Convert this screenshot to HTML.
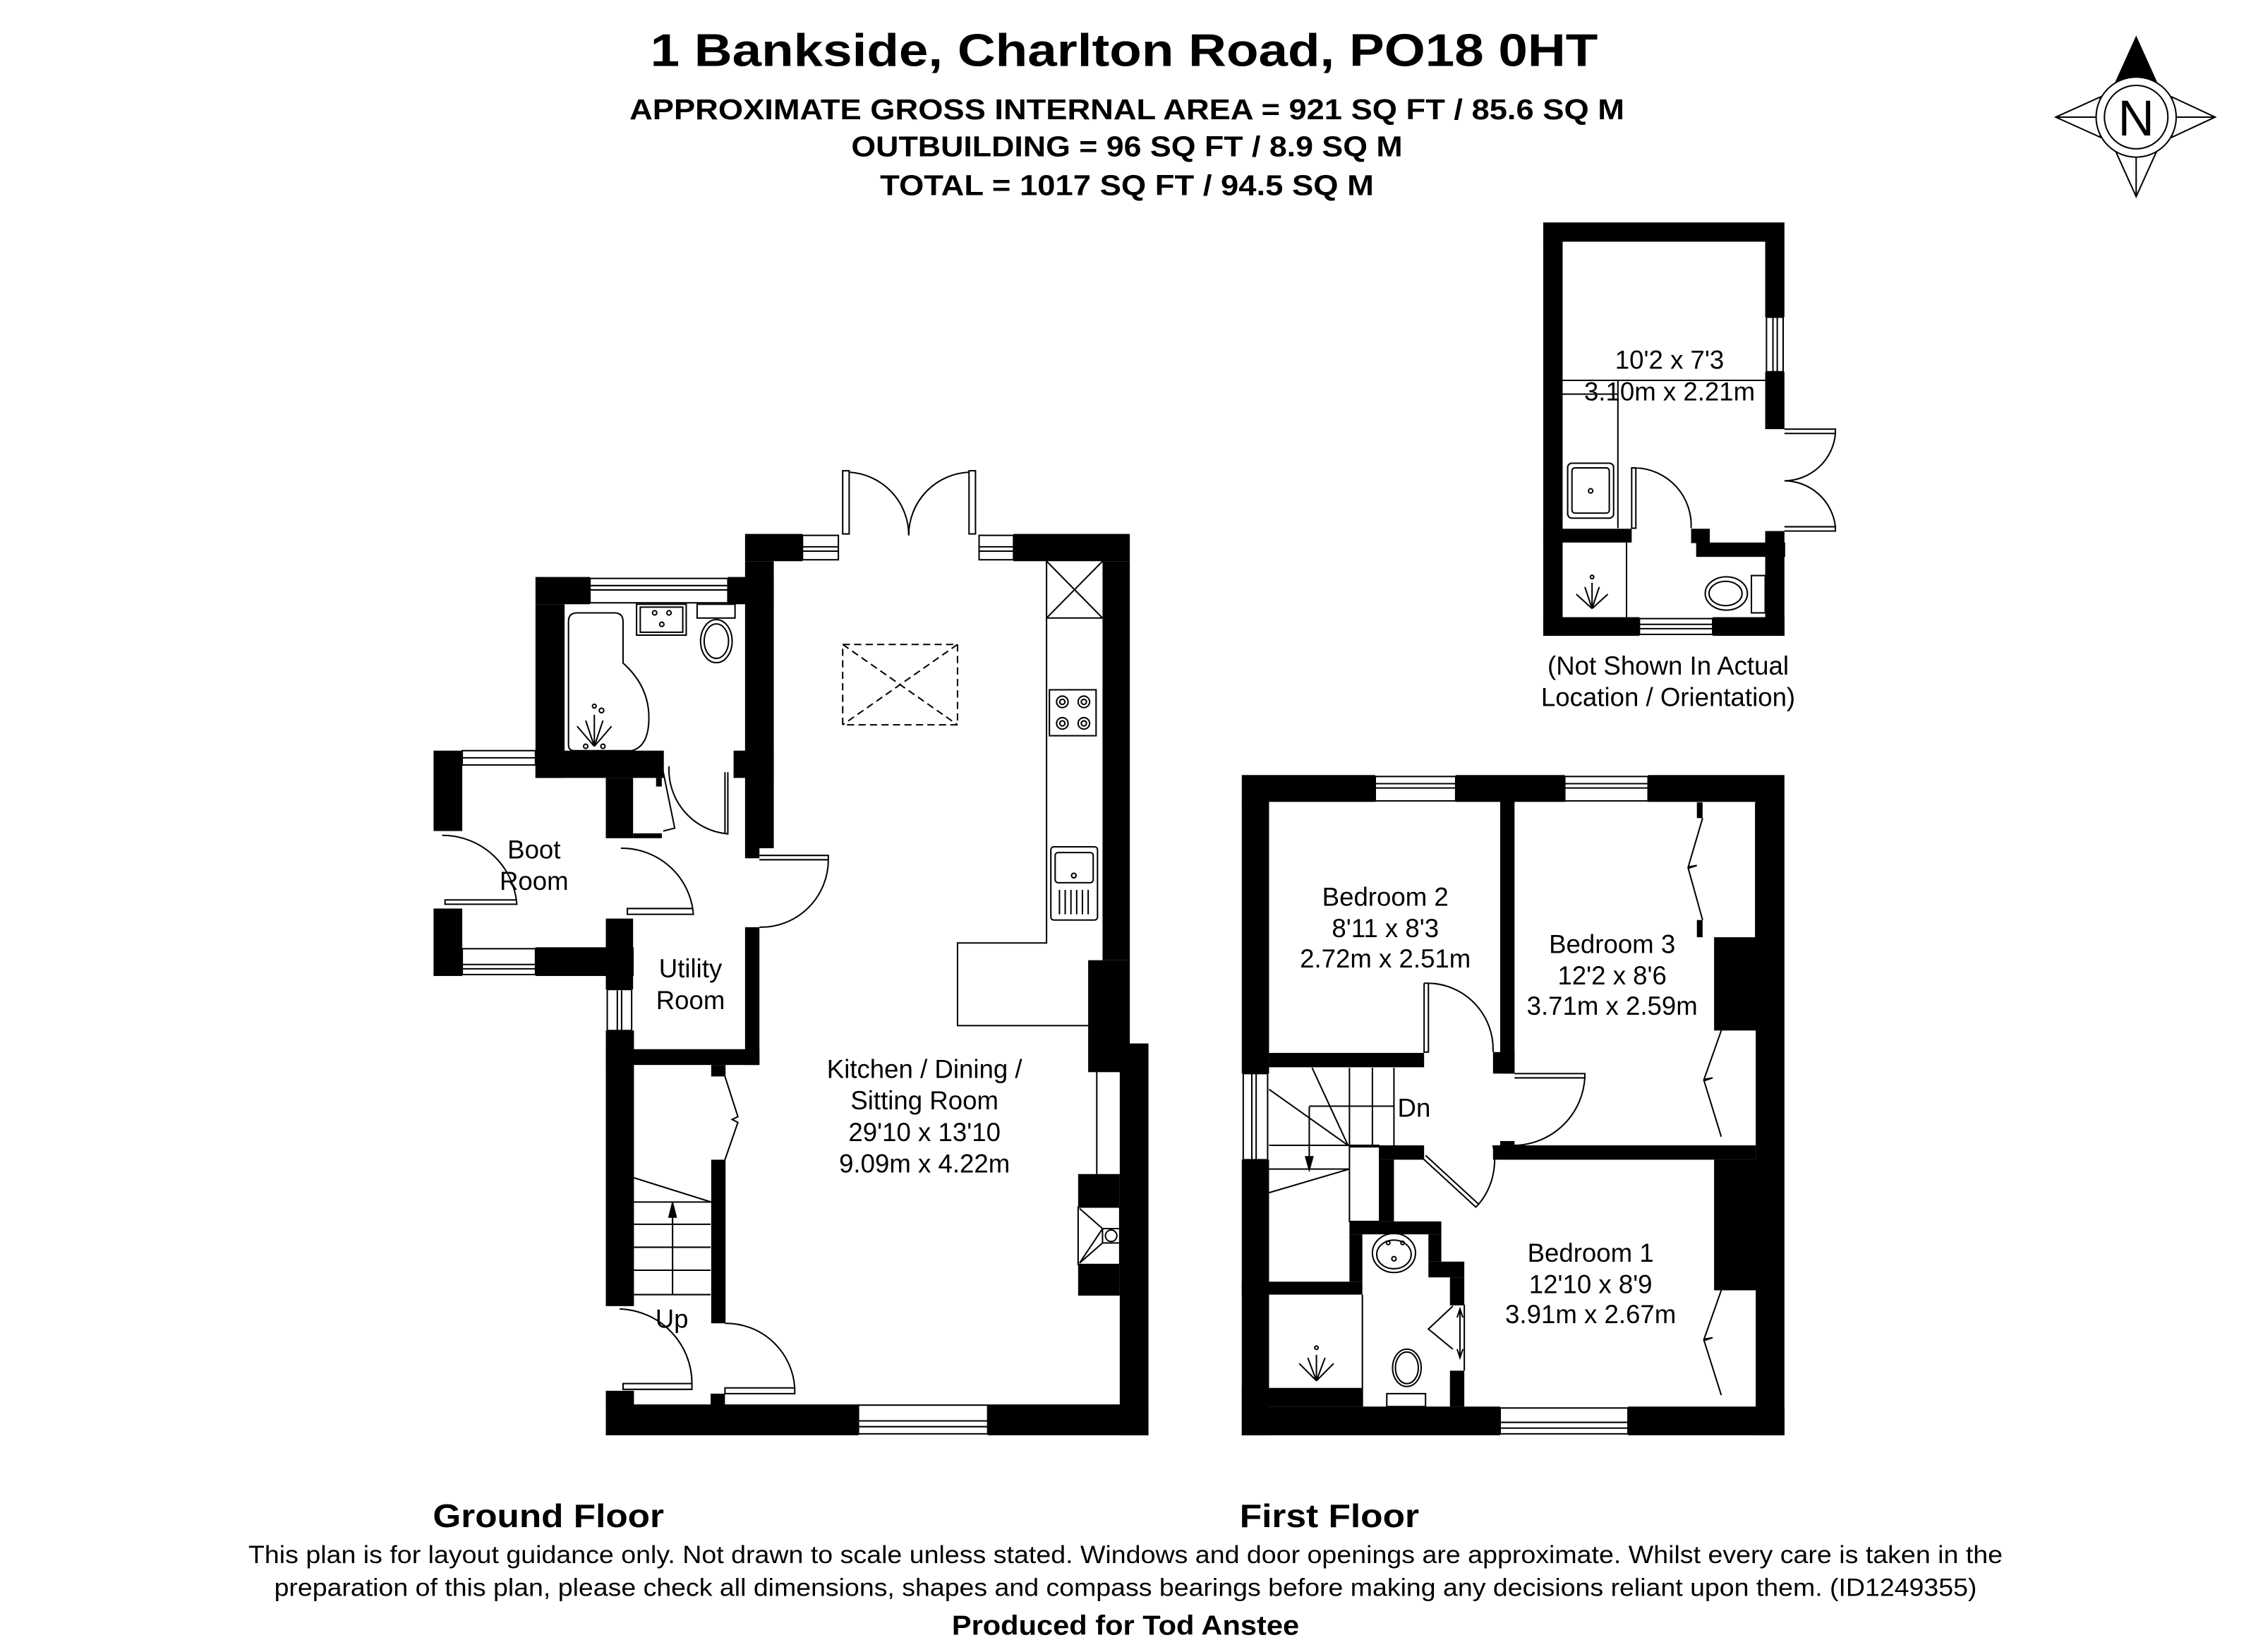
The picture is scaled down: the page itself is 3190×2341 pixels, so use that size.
<!DOCTYPE html>
<html><head><meta charset="utf-8"><style>
html,body{margin:0;padding:0;background:#fff}
svg{display:block}
text{font-family:"Liberation Sans",Arial,sans-serif;fill:#000}
.b{font-weight:bold}
</style></head><body>
<svg width="3190" height="2341" viewBox="0 0 1568 1151" preserveAspectRatio="none" xmlns="http://www.w3.org/2000/svg">
<rect width="1568" height="1151" fill="#fff"/>
<!-- Header -->
<text x="783" y="46" font-size="32" class="b" text-anchor="middle" textLength="660" lengthAdjust="spacingAndGlyphs">1 Bankside, Charlton Road, PO18 0HT</text>
<text x="785" y="83" font-size="20" class="b" text-anchor="middle" textLength="693" lengthAdjust="spacingAndGlyphs">APPROXIMATE GROSS INTERNAL AREA = 921 SQ FT / 85.6 SQ M</text>
<text x="785" y="109" font-size="20" class="b" text-anchor="middle" textLength="384" lengthAdjust="spacingAndGlyphs">OUTBUILDING = 96 SQ FT / 8.9 SQ M</text>
<text x="785" y="136" font-size="20" class="b" text-anchor="middle" textLength="344" lengthAdjust="spacingAndGlyphs">TOTAL = 1017 SQ FT / 94.5 SQ M</text>

<!-- Compass -->
<g stroke="#000" stroke-width="1" fill="#fff">
<polygon points="1488,26 1474,57 1502,57" fill="#000"/>
<polygon points="1488,137 1474,106 1502,106"/>
<line x1="1488" y1="137" x2="1488" y2="108"/>
<polygon points="1432,81.6 1463,67.6 1463,95.6"/>
<line x1="1432" y1="81.6" x2="1462" y2="81.6"/>
<polygon points="1543,81.6 1513,67.6 1513,95.6"/>
<line x1="1543" y1="81.6" x2="1515" y2="81.6"/>
<circle cx="1488" cy="81.6" r="27.9"/>
<circle cx="1488" cy="81.6" r="22.1"/>
</g>
<text x="1488" y="94.5" font-size="35" text-anchor="middle">N</text>

<!-- ============ GROUND FLOOR ============ -->
<g fill="#000">
<!-- kitchen top -->
<rect x="519" y="372" width="40" height="19"/>
<rect x="587" y="328" width="4.5" height="44" fill="#fff" stroke="#000" stroke-width="1"/>
<rect x="706" y="372" width="81" height="19"/>
<!-- kitchen left wall (shared with bathroom) -->
<rect x="519" y="391" width="20" height="200"/>
<rect x="519" y="590" width="10" height="8"/>
<!-- kitchen right -->
<rect x="768" y="391" width="19" height="278"/>
<rect x="758" y="669" width="29" height="78"/>
<rect x="780" y="727" width="20" height="273"/>
<rect x="751" y="818" width="29" height="23"/>
<rect x="751" y="880.7" width="29" height="22"/>
<!-- bottom -->
<rect x="422" y="978.5" width="176" height="21.5"/>
<rect x="688" y="978.5" width="112" height="21.5"/>
<rect x="422" y="969" width="19.6" height="10"/>
<rect x="495" y="971" width="10" height="8"/>
<!-- hall left -->
<rect x="422" y="718" width="19.6" height="192"/>
<!-- stair/kitchen partition -->
<rect x="495.4" y="808" width="10" height="114"/>
<rect x="495.4" y="742" width="10" height="8"/>
<!-- utility -->
<rect x="422" y="731" width="107" height="11"/>
<rect x="519" y="646" width="10" height="96"/>
<rect x="422" y="640" width="19" height="49.4"/>
<!-- bathroom -->
<rect x="373" y="402" width="38" height="19"/>
<rect x="507" y="402" width="32" height="19"/>
<rect x="373" y="421" width="20.3" height="121"/>
<rect x="373" y="523" width="89.4" height="19"/>
<rect x="511" y="523" width="28" height="19"/>
<!-- closet -->
<rect x="422" y="542" width="19" height="42"/>
<rect x="441" y="580.6" width="20" height="3.4"/>
<rect x="457" y="542" width="4" height="6"/>
<!-- boot room -->
<rect x="302" y="523" width="20" height="56"/>
<rect x="302" y="633" width="20" height="47"/>
<rect x="373" y="660" width="68.4" height="20"/>
</g>
<g fill="#fff" stroke="#000" stroke-width="1">
<!-- windows -->
<rect x="559" y="373" width="25" height="17"/><line x1="559" y1="381" x2="584" y2="381"/><line x1="559" y1="384" x2="584" y2="384"/>
<rect x="682" y="373" width="24" height="17"/><line x1="682" y1="381" x2="706" y2="381"/><line x1="682" y1="384" x2="706" y2="384"/>
<rect x="675" y="328" width="4.5" height="44"/>
<rect x="411" y="403" width="96" height="17"/><line x1="411" y1="408" x2="507" y2="408"/><line x1="411" y1="411" x2="507" y2="411"/>
<rect x="598" y="979" width="90" height="20"/><line x1="598" y1="990" x2="688" y2="990"/><line x1="598" y1="994" x2="688" y2="994"/>
<rect x="322" y="523" width="51" height="10"/><line x1="322" y1="528" x2="373" y2="528"/>
<rect x="322" y="661" width="51" height="18"/><line x1="322" y1="672" x2="373" y2="672"/><line x1="322" y1="675" x2="373" y2="675"/>
<rect x="423" y="689.4" width="17" height="28.6"/><line x1="430" y1="690" x2="430" y2="718"/><line x1="433" y1="690" x2="433" y2="718"/>
</g>
<g fill="none" stroke="#000" stroke-width="1">
<!-- french doors -->
<path d="M591.5 329 A44 44 0 0 1 633 373"/><path d="M675 329 A44 44 0 0 0 633 373"/>
<!-- skylight -->
<rect x="587" y="449" width="80" height="56" stroke-dasharray="5,3"/>
<line x1="587" y1="449" x2="667" y2="505" stroke-dasharray="5,3"/><line x1="667" y1="449" x2="587" y2="505" stroke-dasharray="5,3"/>
<!-- kitchen counter -->
<path d="M768 430.6 H729 V657 H667 V714.6 H758"/>
<line x1="729" y1="391" x2="729" y2="430.6"/>
<line x1="729" y1="391" x2="768" y2="430.6"/><line x1="768" y1="391" x2="729" y2="430.6"/>
<rect x="731" y="480.6" width="32.5" height="32"/>
<circle cx="740" cy="489" r="4"/><circle cx="755" cy="489" r="4"/><circle cx="740" cy="504" r="4"/><circle cx="755" cy="504" r="4"/>
<circle cx="740" cy="489" r="1.8"/><circle cx="755" cy="489" r="1.8"/><circle cx="740" cy="504" r="1.8"/><circle cx="755" cy="504" r="1.8"/>
<rect x="732" y="590" width="32.5" height="51" rx="2"/>
<rect x="735" y="594" width="26.5" height="21" rx="2"/><circle cx="748" cy="610" r="1.6"/>
<path d="M738 620 V637 M742 620 V637 M746 620 V637 M750 620 V637 M754 620 V637 M758 620 V637"/>
<!-- fireplace -->
<rect x="751" y="841" width="29" height="40"/><path d="M752 842 L768 856 L752 880 M768 856 H780 M768 856 L768 866 L752 880 M768 866 H780"/><circle cx="774" cy="861" r="4"/>
<line x1="764" y1="746.5" x2="764" y2="818"/>
<!-- bathroom fittings -->
<path d="M396 433 Q396 427 402 427 H428 Q434 427 434 433 V462 Q452 478 452 500 Q452 520 440 523 H400 Q396 523 396 519 Z"/>
<rect x="443.4" y="421" width="34.6" height="21.5"/><rect x="446" y="423" width="29.6" height="17.5"/>
<circle cx="456" cy="427" r="1.5"/><circle cx="466" cy="427" r="1.5"/><circle cx="461" cy="435" r="1.5"/>
<rect x="485.6" y="421" width="26.4" height="9.6"/><ellipse cx="499" cy="446.7" rx="11" ry="15"/><ellipse cx="499" cy="446.7" rx="8.5" ry="12"/>
<path d="M414 520 L402 506 M414 520 L408 502 M414 520 L414 498 M414 520 L420 502 M414 520 L426 506"/>
<circle cx="414" cy="492" r="1.3"/><circle cx="419" cy="495" r="1.6"/><circle cx="408" cy="520" r="1.5"/><circle cx="420" cy="520" r="1.5"/>
<!-- doors -->
<path d="M461 533 L470 577 L462 579"/>
<path d="M507 538 V581 A45 45 0 0 1 466 534"/><line x1="505" y1="538" x2="505" y2="581"/>
<path d="M432.5 591 A50 50 0 0 1 483 637 H437 V633 H483"/>
<path d="M308 582 A52 52 0 0 1 360 630 H310 V627 H360"/>
<path d="M529 596 H577 V599 H529 M577 599 A47 47 0 0 1 529 646"/>
<path d="M505 750 L514 778 L510 780 L514 782 L505 808"/>
<!-- stairs -->
<path d="M441.6 820.6 L495.4 837.5 M441.6 837.5 H495 M441.6 853 H495 M441.6 869 H495 M441.6 885 H495 M441.6 902 H495"/>
<line x1="468.5" y1="902" x2="468.5" y2="842"/><path d="M466 848 L468.5 838 L471 848 Z" fill="#000"/>
<!-- front doors -->
<path d="M431.6 912 A52 52 0 0 1 482 964 V968 H434 V964 H482"/>
<path d="M505 922 A48 48 0 0 1 553.6 967 V971 H505 V967 H553.6"/>
</g>
<text x="644" y="751" font-size="18" text-anchor="middle">Kitchen / Dining /</text>
<text x="644" y="773" font-size="18" text-anchor="middle">Sitting Room</text>
<text x="644" y="795" font-size="18" text-anchor="middle">29'10 x 13'10</text>
<text x="644" y="817" font-size="18" text-anchor="middle">9.09m x 4.22m</text>
<text x="372" y="598" font-size="18" text-anchor="middle">Boot</text>
<text x="372" y="620" font-size="18" text-anchor="middle">Room</text>
<text x="481" y="681" font-size="18" text-anchor="middle">Utility</text>
<text x="481" y="703" font-size="18" text-anchor="middle">Room</text>
<text x="468" y="925" font-size="18" text-anchor="middle">Up</text>

<!-- ============ FIRST FLOOR ============ -->
<g fill="#000">
<rect x="865" y="540" width="93" height="18.7"/>
<rect x="1014" y="540" width="76" height="18.7"/>
<rect x="1148" y="540" width="95" height="18.7"/>
<rect x="865" y="558" width="19" height="190"/>
<rect x="865" y="808" width="19" height="192"/>
<rect x="1223" y="558" width="20" height="442"/>
<rect x="1194" y="653" width="30" height="65"/>
<rect x="1194" y="808" width="30" height="91"/>
<rect x="1182" y="559" width="4" height="11"/><rect x="1182" y="641" width="4" height="12"/>
<rect x="865" y="980" width="180" height="20"/>
<rect x="1134" y="980" width="109" height="20"/>
<rect x="865" y="967" width="84" height="13"/>
<rect x="1045" y="558" width="10" height="190"/>
<rect x="1040" y="733" width="15" height="15"/>
<rect x="884" y="733.6" width="108" height="10"/>
<rect x="1040" y="798" width="183" height="10"/>
<rect x="1045" y="795" width="10" height="3"/>
<rect x="961" y="798" width="31" height="10"/>
<rect x="961" y="808" width="10" height="43"/>
<rect x="940" y="851" width="64" height="9"/>
<rect x="940" y="860" width="9" height="33"/>
<rect x="865" y="893" width="84" height="9"/>
<rect x="995" y="860" width="9" height="19"/>
<rect x="995" y="879" width="25" height="11"/>
<rect x="1010" y="890" width="10" height="19.5"/>
<rect x="1010" y="955" width="10" height="25"/>
</g>
<g fill="#fff" stroke="#000" stroke-width="1">
<rect x="958" y="541" width="56" height="17"/><line x1="958" y1="546" x2="1014" y2="546"/><line x1="958" y1="549" x2="1014" y2="549"/>
<rect x="1090" y="541" width="58" height="17"/><line x1="1090" y1="546" x2="1148" y2="546"/><line x1="1090" y1="549" x2="1148" y2="549"/>
<rect x="1045" y="981" width="89" height="18"/><line x1="1045" y1="991" x2="1134" y2="991"/><line x1="1045" y1="995" x2="1134" y2="995"/>
<rect x="866" y="748" width="17" height="60"/><line x1="872" y1="748" x2="872" y2="808"/><line x1="875" y1="748" x2="875" y2="808"/>
</g>
<g fill="none" stroke="#000" stroke-width="1">
<!-- bed2 door -->
<path d="M992 685 V733 H995 V685 H992 M995 685 A46 46 0 0 1 1040 733"/>
<!-- bed3 door -->
<path d="M1055 748 H1104 V751 H1055 M1104 750 A50 50 0 0 1 1055 798"/>
<!-- bed1 door -->
<path d="M993 805 L1030 839 L1028 841 L991 807 M1030 839 A48 48 0 0 0 1040 798"/>
<!-- stairs -->
<path d="M940 744 V798 M956 744 V798 M971 744 V798 M912 770.7 H971 M914 744 L939 798 M884 759 L939 798 M884 798 H961 M884 814.5 H940 M884 831 L940 814.5"/>
<path d="M940 799 H961 V851 H940 Z"/>
<line x1="912" y1="771" x2="912" y2="808"/><path d="M909.5 806 L912 815 L914.5 806 Z" fill="#000"/>
<!-- bed3 wardrobes -->
<path d="M1186 570 L1176 604 L1182 603 L1176 605 L1186 641"/>
<line x1="1223" y1="559" x2="1223" y2="653"/>
<path d="M1199 718 L1187 752 L1193 751 L1187 753 L1199 792"/>
<path d="M1199 899 L1187 933 L1193 932 L1187 934 L1199 972"/>
<!-- en-suite -->
<ellipse cx="971" cy="873" rx="15" ry="13.6"/><ellipse cx="971" cy="874" rx="12" ry="10"/><circle cx="971" cy="877" r="1.5"/><circle cx="967" cy="866" r="1.2"/><circle cx="977" cy="866" r="1.2"/>
<rect x="966" y="971" width="27" height="9"/><ellipse cx="980" cy="953" rx="10" ry="13"/><ellipse cx="980" cy="953" rx="8" ry="11"/>
<path d="M1012 910 L995 926 L1012 940"/>
<path d="M1017 913 V945 M1015 918 L1017 912 L1019 918 M1015 940 L1017 946 L1019 940"/>
<line x1="949" y1="902" x2="949" y2="980"/>
<line x1="1020" y1="909" x2="1020" y2="955"/>
<path d="M917 962 L905 950 M917 962 L911 946 M917 962 L917 944 M917 962 L923 946 M917 962 L929 950"/><circle cx="917" cy="939" r="1.2"/>
</g>
<text x="965" y="631" font-size="18" text-anchor="middle">Bedroom 2</text>
<text x="965" y="653" font-size="18" text-anchor="middle">8'11 x 8'3</text>
<text x="965" y="674" font-size="18" text-anchor="middle">2.72m x 2.51m</text>
<text x="1123" y="664" font-size="18" text-anchor="middle">Bedroom 3</text>
<text x="1123" y="686" font-size="18" text-anchor="middle">12'2 x 8'6</text>
<text x="1123" y="707" font-size="18" text-anchor="middle">3.71m x 2.59m</text>
<text x="1108" y="879" font-size="18" text-anchor="middle">Bedroom 1</text>
<text x="1108" y="901" font-size="18" text-anchor="middle">12'10 x 8'9</text>
<text x="1108" y="922" font-size="18" text-anchor="middle">3.91m x 2.67m</text>
<text x="985" y="778" font-size="18" text-anchor="middle">Dn</text>

<!-- ============ OUTBUILDING ============ -->
<g fill="#000">
<rect x="1075" y="155" width="168" height="13.4"/>
<rect x="1075" y="168" width="13.5" height="275"/>
<rect x="1229.6" y="168" width="13.4" height="53"/>
<rect x="1229.6" y="259" width="13.4" height="40"/>
<rect x="1229.6" y="370" width="13.4" height="73"/>
<rect x="1075" y="430" width="67" height="13"/>
<rect x="1193" y="430" width="50" height="13"/>
<rect x="1075" y="368.4" width="61.6" height="9.6"/>
<rect x="1178" y="368.4" width="13" height="10"/>
<rect x="1181.5" y="378" width="62" height="10"/>
</g>
<g fill="#fff" stroke="#000" stroke-width="1">
<rect x="1230.5" y="221" width="11.6" height="38"/><line x1="1235" y1="221" x2="1235" y2="259"/><line x1="1238" y1="221" x2="1238" y2="259"/>
<rect x="1142" y="431" width="51" height="11"/><line x1="1142" y1="435" x2="1193" y2="435"/><line x1="1142" y1="438" x2="1193" y2="438"/>
</g>
<g fill="none" stroke="#000" stroke-width="1">
<line x1="1088.5" y1="265" x2="1229.6" y2="265"/><line x1="1088.5" y1="274.6" x2="1127" y2="274.6"/><line x1="1127" y1="265" x2="1127" y2="368"/>
<rect x="1092" y="322.7" width="32" height="38.3" rx="3"/><rect x="1095" y="326" width="26" height="31.5" rx="2"/><circle cx="1108" cy="342" r="1.5"/>
<path d="M1136.6 326 H1139.5 V368 H1136.6 Z M1139.5 326 A40 40 0 0 1 1178 368"/>
<path d="M1243 299 H1278.5 V302 H1243 M1278.5 302 A36 36 0 0 1 1243 335 M1243 370 H1278.5 V367 H1243 M1278.5 367 A36 36 0 0 0 1243 335"/>
<line x1="1133" y1="378" x2="1133" y2="430"/>
<rect x="1220" y="401" width="9.6" height="26"/><ellipse cx="1202.5" cy="413.5" rx="14.7" ry="11.6"/><ellipse cx="1202" cy="413.5" rx="11.5" ry="8.5"/>
<path d="M1109 424 L1098 414 M1109 424 L1104 409 M1109 424 L1109 406 M1109 424 L1114 409 M1109 424 L1120 414"/><circle cx="1109" cy="402" r="1.2"/>
</g>
<text x="1163" y="257" font-size="18" text-anchor="middle">10'2 x 7'3</text>
<text x="1163" y="279" font-size="18" text-anchor="middle">3.10m x 2.21m</text>
<text x="1162" y="470" font-size="18" text-anchor="middle">(Not Shown In Actual</text>
<text x="1162" y="492" font-size="18" text-anchor="middle">Location / Orientation)</text>

<!-- Footer -->
<text x="382" y="1064" font-size="23" class="b" text-anchor="middle" textLength="161" lengthAdjust="spacingAndGlyphs">Ground Floor</text>
<text x="926" y="1064" font-size="23" class="b" text-anchor="middle" textLength="125" lengthAdjust="spacingAndGlyphs">First Floor</text>
<text x="784" y="1089" font-size="17.5" text-anchor="middle" textLength="1222" lengthAdjust="spacingAndGlyphs">This plan is for layout guidance only. Not drawn to scale unless stated. Windows and door openings are approximate. Whilst every care is taken in the</text>
<text x="784" y="1112" font-size="17.5" text-anchor="middle" textLength="1186" lengthAdjust="spacingAndGlyphs">preparation of this plan, please check all dimensions, shapes and compass bearings before making any decisions reliant upon them. (ID1249355)</text>
<text x="784" y="1139" font-size="19" class="b" text-anchor="middle" textLength="242" lengthAdjust="spacingAndGlyphs">Produced for Tod Anstee</text>
</svg>
</body></html>
